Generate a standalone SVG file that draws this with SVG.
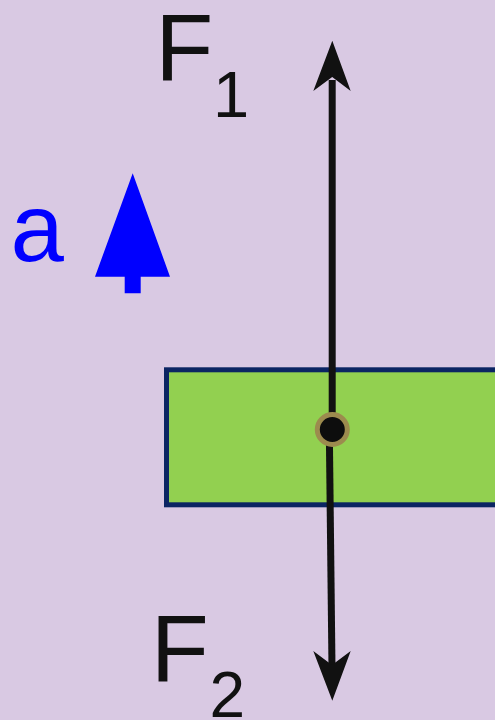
<svg xmlns="http://www.w3.org/2000/svg" width="495" height="720" viewBox="0 0 495 720">
<style>
.lbl{font-family:"Liberation Sans",Arial,sans-serif;fill:#111111}
.vec{stroke:#111111;stroke-width:7;fill:none}
.head{fill:#111111}
</style>
<rect x="0" y="0" width="495" height="720" fill="#d9c9e3"/>
<g id="block">
<rect x="166.5" y="369.8" width="340" height="135" fill="#92d050" stroke="#0b2563" stroke-width="5"/>
</g>
<g id="accel">
<polygon points="132.7,173.3 170,276.7 140.7,276.7 140.7,293.3 124.7,293.3 124.7,276.7 95,276.7" fill="#0000ff"/>
<text x="10.5" y="260.5" font-family="Liberation Sans, Arial, sans-serif" font-size="96" fill="#0000ff">a</text>
</g>
<g id="connectors">
<line class="vec" x1="332.2" y1="80" x2="332.2" y2="430"/>
<polygon class="head" points="332.3,40.7 350.7,91 332.2,77 313.3,91"/>
<line class="vec" x1="329.3" y1="430" x2="332" y2="668"/>
<polygon class="head" points="332.3,700.7 313.3,651 332,665 350.7,651"/>
</g>
<g id="point">
<circle cx="332.3" cy="429.5" r="15" fill="#0d0d0d" stroke="#9c8b4e" stroke-width="5"/>
</g>
<g id="label-f1">
<text class="lbl" x="155.2" y="80" font-size="95">F</text>
<text class="lbl" x="212.9" y="116.7" font-size="65">1</text>
</g>
<g id="label-f2">
<text class="lbl" x="150.8" y="681" font-size="95">F</text>
<text class="lbl" x="209.5" y="717" font-size="64">2</text>
</g>
</svg>
